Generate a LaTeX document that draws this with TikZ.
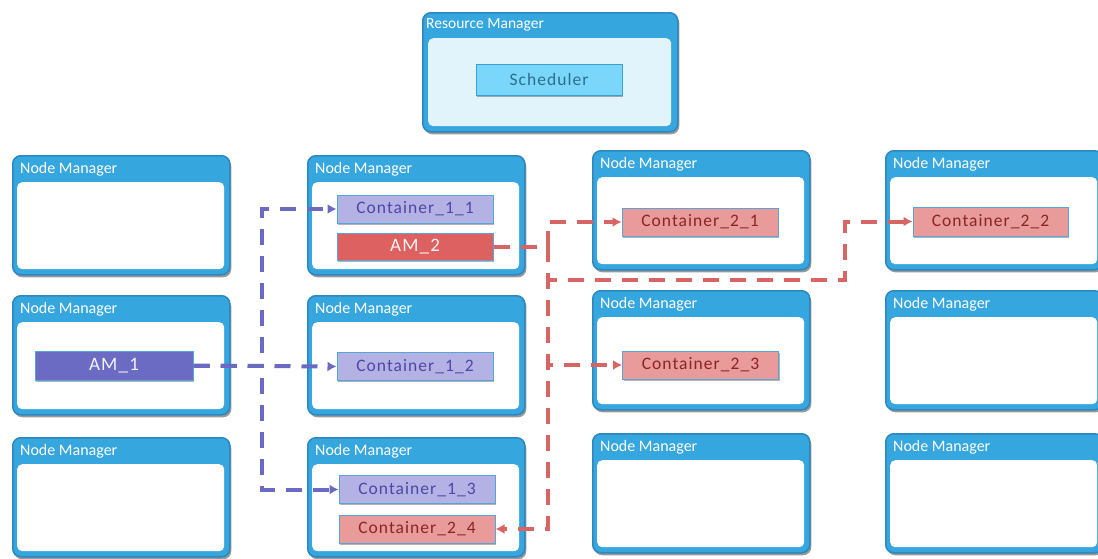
\documentclass[tikz,border=0pt]{standalone}
\usepackage{fontspec}
\setmainfont{Carlito}
\newfontfamily\boxfont[LetterSpace=6]{Carlito}
\usetikzlibrary{arrows.meta,shadows}

\definecolor{hdrblue}{HTML}{36A6DF}
\definecolor{nmborder}{HTML}{2C88BE}
\definecolor{rmpanel}{HTML}{E1F3FB}
\definecolor{schedfill}{HTML}{7AD7FB}
\definecolor{schedborder}{HTML}{3C9FCF}
\definecolor{schedtext}{HTML}{2A6F8A}
\definecolor{cborder}{HTML}{55A7D8}
\definecolor{purplelight}{HTML}{B4B2E4}
\definecolor{purpletext}{HTML}{4B48A6}
\definecolor{purpledark}{HTML}{6B6BC3}
\definecolor{redlight}{HTML}{E99A9A}
\definecolor{redtext}{HTML}{8A2525}
\definecolor{reddark}{HTML}{DE6161}
\definecolor{pline}{HTML}{6A6AC2}
\definecolor{rline}{HTML}{D96464}

\tikzset{
  manager/.style={draw=nmborder, line width=1.5pt, fill=hdrblue,
    rounded corners=8pt, anchor=north west, inner sep=0pt,
    minimum width=217pt, minimum height=119pt,
    drop shadow={shadow xshift=1.5pt, shadow yshift=-2.5pt, fill=black, opacity=0.4}},
  panel/.style={fill=white, rounded corners=5pt, anchor=north west,
    inner sep=0pt, minimum width=207pt, minimum height=87pt},
  title/.style={anchor=west, text=white, inner sep=0pt,
    font=\fontsize{16}{16}\selectfont},
  cbox/.style={draw=cborder, line width=1pt, inner sep=0pt,
    minimum width=156pt, minimum height=28pt,
    font=\boxfont\fontsize{17.5}{17.5}\selectfont,
    drop shadow={shadow xshift=1pt, shadow yshift=-1.5pt, fill=black, opacity=0.3}},
  pbox/.style={cbox, fill=purplelight, text=purpletext},
  rbox/.style={cbox, fill=redlight, text=redtext},
  ambox/.style={cbox, minimum width=158pt, minimum height=29pt,
    font=\boxfont\fontsize{19}{19}\selectfont},
  link/.style={line width=4pt, dash pattern=on 16pt off 11pt,
    -{Latex[length=9pt,width=10pt]}},
  plink/.style={link, draw=pline},
  rlink/.style={link, draw=rline},
}

\newcommand\nodemgr[3]{%
  \node[manager] (#1) at (#2,#3) {};
  \node[panel] (#1p) at (#2+5,#3+27) {};
  \node[title] (#1t) at (#2+8,#3+14) {Node Manager};
}

\begin{document}
\begin{tikzpicture}[x=1pt,y=-1pt]
  \useasboundingbox (0,0) rectangle (1098,558);
  \clip (0,0) rectangle (1098,558);

  % resource manager with its scheduler
  \node[manager, minimum width=255pt] (rm) at (422,12) {};
  \node[panel, fill=rmpanel, minimum width=243pt, minimum height=88pt] (rmp) at (428,38) {};
  \node[title, font=\fontsize{15.5}{15.5}\selectfont] (rmt) at (426,25) {Resource Manager};
  \node[cbox, draw=schedborder, fill=schedfill, text=schedtext,
        minimum width=146pt, minimum height=31pt] (sched) at (549,79.5) {Scheduler};

  % node managers, column by column
  \nodemgr{na}{12}{155}
  \nodemgr{nb}{12}{295}
  \nodemgr{nc}{12}{437}
  \nodemgr{nd}{307}{155}
  \nodemgr{ne}{307}{295}
  \nodemgr{nf}{307}{437}
  \nodemgr{ng}{592}{150}
  \nodemgr{nh}{592}{290}
  \nodemgr{ni}{592}{433}
  \nodemgr{nj}{885}{150}
  \nodemgr{nk}{885}{290}
  \nodemgr{nl}{885}{433}

  % application masters
  \node[ambox, fill=purpledark, text=white!92!purpledark] (am1) at (114,365.5) {AM\_1};
  \node[ambox, fill=reddark, text=white!92!reddark, minimum width=156pt, minimum height=27pt] (am2) at (415,246.5) {AM\_2};

  % containers
  \node[pbox] (c11) at (415,209) {Container\_1\_1};
  \node[pbox] (c12) at (415,366.5) {Container\_1\_2};
  \node[pbox] (c13) at (417,489.5) {Container\_1\_3};
  \node[rbox] (c21) at (700,222) {Container\_2\_1};
  \node[rbox, minimum width=155pt, minimum height=29pt] (c22) at (990.5,221.5) {Container\_2\_2};
  \node[rbox] (c23) at (700.5,365) {Container\_2\_3};
  \node[rbox] (c24) at (417,529) {Container\_2\_4};

  % links of the first application
  \coordinate (pj) at (262,365.5);
  \draw[plink] (am1.east) -- (c12.west);
  \draw[plink] (am1.east) -- (pj) |- (c11.west);
  \draw[plink] (am1.east) -- (pj) |- (c13.west);

  % links of the second application
  \coordinate (rj) at (548,246.5);
  \coordinate (rk) at (845,280);
  \draw[rlink] (am2.east) -- (rj) |- (c21.west);
  \draw[rlink] (am2.east) -- (rj) |- (c23.west);
  \draw[rlink] (am2.east) -- (rj) |- (c24.east);
  \draw[rlink] (am2.east) -- (rj) |- (rk) |- (c22.west);
\end{tikzpicture}
\end{document}
